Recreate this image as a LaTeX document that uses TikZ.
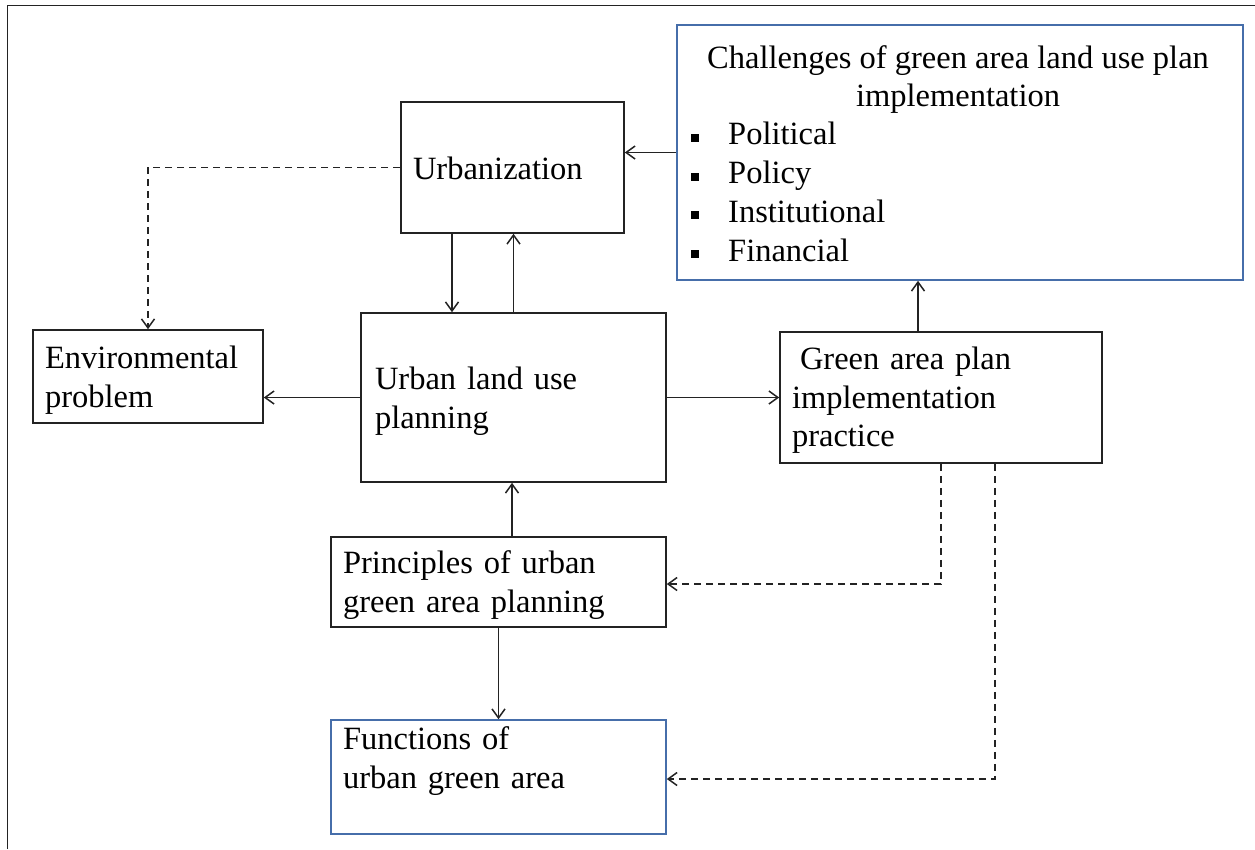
\documentclass[tikz,border=0pt]{standalone}
\usepackage{fontspec}
\setmainfont{Liberation Serif}
\usetikzlibrary{arrows.meta,calc}
\definecolor{inkgray}{RGB}{35,35,35}
\definecolor{boxblue}{RGB}{70,110,170}
% invisible strut that raises the first line's height, moving the text block down
\newcommand\toppad[1]{\rule{0pt}{\dimexpr22.3pt+#1\relax}}
\tikzset{
  box/.style={draw=inkgray, line width=1.6pt, inner xsep=12pt, inner ysep=0pt,
    align=left, text=black, font=\fontsize{32.5}{38.8}\selectfont},
  bluebox/.style={box, draw=boxblue},
  arr/.style={draw=inkgray, line width=1.7pt, -{Straight Barb[length=9pt,width=13pt,line width=1.5pt]}},
  darr/.style={arr, dash pattern=on 7pt off 5pt},
}
\begin{document}
\begin{tikzpicture}[x=1pt,y=-1pt]
\useasboundingbox (0,0) rectangle (1255,849);
% page frame (top and left edges)
\draw[inkgray, line width=1.5pt] (7.5,849) -- (7.5,5.5) -- (1255,5.5);

% boxes
\node[box, minimum width=223pt, minimum height=131pt, text width=199pt] (urb) at (512.5,167.5) {\toppad{2pt}Urbanization};
\node[box, minimum width=230pt, minimum height=93pt, text width=206pt] (env) at (148,376.5) {\toppad{8pt}Environmental\\problem};
\node[box, minimum width=305pt, minimum height=169pt, text width=277pt, inner xsep=14pt] (lup) at (513.5,397.5) {\toppad{8pt}Urban land use\\planning};
\node[box, minimum width=322pt, minimum height=131pt, text width=298pt] (gap) at (941,397.5) {\toppad{6pt}\hspace*{8pt}Green area plan\\implementation\\practice};
\node[box, minimum width=335pt, minimum height=90pt, text width=311pt] (prin) at (498.5,582) {\toppad{6pt}Principles of urban\\green area planning};
\node[bluebox, minimum width=335pt, minimum height=114pt, text width=311pt] (func) at (498.5,777) {Functions of\\urban green area\\\mbox{}};
\node[bluebox, minimum width=566pt, minimum height=255pt] (chal) at (960,152.5) {};
\node[font=\fontsize{32.5}{38.8}\selectfont, align=center, anchor=north, inner sep=0pt] (chalhead) at (958,45) {Challenges of green area land use plan\\implementation};
\node[font=\fontsize{32.5}{38.8}\selectfont, align=left, anchor=north west, inner sep=0pt] (challist) at ([yshift=-8pt]chalhead.south -| 691,0)
  {\makebox[37pt][l]{\rule[3pt]{8pt}{8pt}}Political\\
   \makebox[37pt][l]{\rule[3pt]{8pt}{8pt}}Policy\\
   \makebox[37pt][l]{\rule[3pt]{8pt}{8pt}}Institutional\\
   \makebox[37pt][l]{\rule[3pt]{8pt}{8pt}}Financial};

% connectors
\draw[arr] (chal.west) -- (chal.west -| urb.east);
\draw[darr] (urb.west) -| (env.north);
\draw[arr] ([xshift=-60.5pt]urb.south) -- ([xshift=-60.5pt]urb.south |- lup.north);
\draw[arr] (lup.north) -- (lup.north |- urb.south);
\draw[arr] (lup.west) -- (lup.west -| env.east);
\draw[arr] (lup.east) -- (gap.west);
\draw[arr] ([xshift=-23pt]gap.north) -- ([xshift=-23pt]gap.north |- chal.south);
\draw[arr] ([xshift=13.5pt]prin.north) -- ([xshift=13.5pt]prin.north |- lup.south);
\draw[arr] (prin.south) -- (func.north);
\draw[darr] (gap.south) |- ([yshift=-2pt]prin.east);
\draw[darr] ([xshift=54pt]gap.south) |- ([yshift=-2pt]func.east);
\end{tikzpicture}
\end{document}
